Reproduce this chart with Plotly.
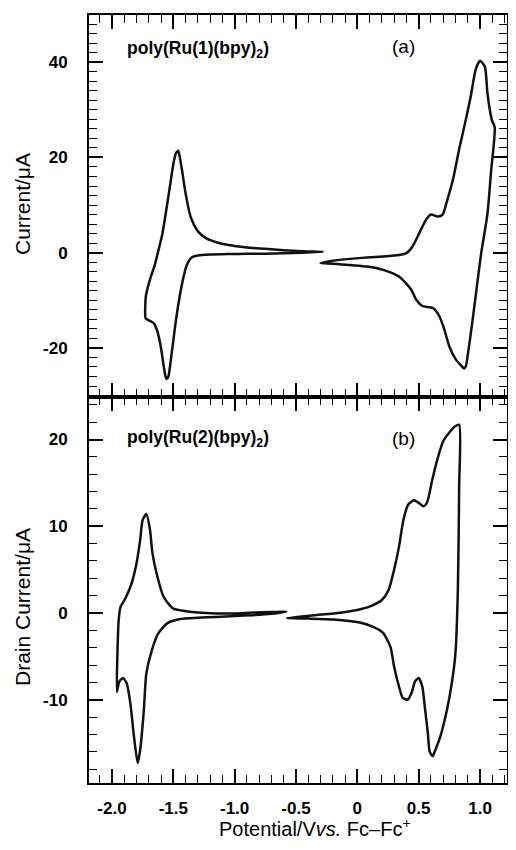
import plotly.graph_objects as go

# ---------------- data ----------------
# Panel (a): poly(Ru(1)(bpy)2)
a_neg_x = [-0.28, -0.45, -0.6, -0.75, -0.9, -1.05, -1.15, -1.23, -1.29, -1.33, -1.36, -1.40, -1.43, -1.45, -1.46,
           -1.48, -1.50, -1.53, -1.56, -1.59, -1.62, -1.65, -1.68, -1.71, -1.725, -1.725, -1.70, -1.66, -1.63,
           -1.60, -1.58, -1.565, -1.555, -1.54, -1.52, -1.50, -1.48, -1.45, -1.42, -1.39, -1.35, -1.30, -1.2,
           -1.05, -0.9, -0.75, -0.6, -0.45, -0.28]
a_neg_y = [0.2, 0.3, 0.5, 0.8, 1.1, 1.6, 2.2, 3.0, 4.2, 5.8, 7.6, 12.5, 17.5, 20.5, 21.4,
           20.8, 18.5, 13.5, 8.5, 3.8, 0.6, -2.5, -4.8, -7.5, -9.5, -13.8, -14.2, -14.8, -16.5,
           -20.0, -23.5, -25.8, -26.5, -26.0, -22.5, -18.5, -14.5, -9.5, -5.5, -2.6, -1.0, -0.6, -0.4,
           -0.3, -0.25, -0.2, -0.1, 0.0, 0.2]

a_pos_x = [-0.30, -0.20, -0.06, 0.08, 0.21, 0.34, 0.40, 0.45, 0.505, 0.56, 0.60, 0.655, 0.695, 0.735, 0.78,
           0.83, 0.885, 0.925, 0.965, 1.00, 1.04, 1.06, 1.095, 1.12, 1.09, 1.06, 1.01, 0.97, 0.93, 0.90,
           0.885, 0.87, 0.84, 0.805, 0.75, 0.71, 0.67, 0.615, 0.53, 0.48, 0.44, 0.34, 0.21, 0.08, -0.06,
           -0.20, -0.30]
a_pos_y = [-2.2, -1.7, -1.3, -1.0, -0.8, -0.5, -0.1, 1.3, 4.1, 6.9, 8.0, 7.6, 8.0, 11.2, 15.4,
           21.7, 28.0, 32.9, 38.5, 40.3, 39.0, 33.6, 28.0, 26.3, 17.0, 8.0, 0.0, -8.0, -16.0, -21.5,
           -23.8, -24.3, -23.5, -22.5, -19.7, -16.2, -13.4, -11.6, -11.2, -9.9, -7.8, -5.0, -3.6, -2.9, -2.6,
           -2.3, -2.2]

# Panel (b): poly(Ru(2)(bpy)2)
b_neg_x = [-0.58, -0.7, -0.85, -1.0, -1.15, -1.3, -1.42, -1.50, -1.53, -1.58, -1.63, -1.67, -1.69, -1.72,
           -1.75, -1.77, -1.80, -1.84, -1.89, -1.93, -1.945, -1.955, -1.96, -1.94, -1.91, -1.88, -1.85,
           -1.82, -1.79, -1.77, -1.74, -1.72, -1.675, -1.62, -1.55, -1.445, -1.3, -1.15, -1.0, -0.85,
           -0.7, -0.58]
b_neg_y = [0.15, 0.1, 0.05, -0.05, -0.05, 0.05, 0.25, 0.5, 0.9, 1.9, 4.2, 6.9, 9.6, 11.4,
           10.7, 8.4, 5.7, 3.4, 1.7, 0.7, -0.8, -4.6, -9.1, -7.9, -7.5, -8.1, -10.4,
           -14.3, -17.3, -15.8, -11.2, -7.0, -4.3, -2.3, -1.2, -0.7, -0.55, -0.45, -0.35, -0.25,
           -0.1, 0.15]

b_pos_x = [-0.575, -0.45, -0.33, -0.14, 0.0, 0.10, 0.20, 0.255, 0.30, 0.34, 0.375, 0.415, 0.46, 0.50,
           0.54, 0.57, 0.61, 0.65, 0.70, 0.755, 0.795, 0.83, 0.83, 0.82, 0.80, 0.77, 0.73, 0.675, 0.63,
           0.615, 0.59, 0.575, 0.55, 0.53, 0.50, 0.47, 0.445, 0.41, 0.37, 0.34, 0.30, 0.27, 0.21, 0.13,
           0.02, -0.195, -0.40, -0.575]
b_pos_y = [-0.6, -0.4, -0.23, 0.04, 0.35, 0.73, 1.5, 2.65, 5.0, 7.65, 10.7, 12.5, 13.0, 12.7,
           12.3, 12.8, 15.3, 17.6, 19.8, 20.9, 21.5, 21.7, 14.6, 3.0, -4.6, -8.1, -11.2, -14.3, -16.0,
           -16.5, -16.0, -13.9, -10.8, -8.5, -7.5, -7.9, -9.1, -10.0, -9.8, -8.5, -6.2, -3.9, -2.3, -1.6,
           -1.1, -0.75, -0.65, -0.6]

x_tickvals = [-2.0, -1.5, -1.0, -0.5, 0.0, 0.5, 1.0]
x_ticktext = ["-2.0", "-1.5", "-1.0", "-0.5", "0", "0.5", "1.0"]
ya_tickvals = [-20, 0, 20, 40]
ya_ticktext = ["-20", "0", "20", "40"]
ya_unlabeled_major = [-30, -10, 10, 30]
yb_tickvals = [-10, 0, 10, 20]
yb_ticktext = ["-10", "0", "10", "20"]

# ---------------- figure ----------------
# page body has an 8px margin, so the figure origin sits at page (8, 8)
OFF = 8
W, H = 500, 834
ML, MT = 89 - OFF, 15 - OFF
MR = W - (507 - OFF)
MB = H - (783 - OFF)
plot_w = W - ML - MR
plot_h = H - MT - MB
split = (783 - 397) / plot_h

FONT = "Liberation Sans, Arial, sans-serif"
line = dict(color="#111111", width=2.5, shape="spline", smoothing=0.6)

fig = go.Figure()
fig.add_trace(go.Scatter(x=a_neg_x, y=a_neg_y, mode="lines", line=line, xaxis="x2", yaxis="y2", showlegend=False))
fig.add_trace(go.Scatter(x=a_pos_x, y=a_pos_y, mode="lines", line=line, xaxis="x2", yaxis="y2", showlegend=False))
fig.add_trace(go.Scatter(x=b_neg_x, y=b_neg_y, mode="lines", line=line, xaxis="x", yaxis="y", showlegend=False))
fig.add_trace(go.Scatter(x=b_pos_x, y=b_pos_y, mode="lines", line=line, xaxis="x", yaxis="y", showlegend=False))

tickfont = dict(family=FONT, size=17, color="black", weight="bold")
common = dict(showline=True, linewidth=2, linecolor="black", mirror="allticks",
              ticks="inside", ticklen=14, tickwidth=1.6, tickcolor="black",
              showgrid=False, zeroline=False, tickfont=tickfont, automargin=False)

def minor(dt):
    return dict(ticks="inside", dtick=dt, tick0=0, ticklen=8, tickwidth=1.4, tickcolor="black", showgrid=False)

xrange = [-2.187, 1.22]
ya_range = [-30.3, 49.9]
fig.update_layout(
    template="none",
    width=W, height=H,
    margin=dict(l=ML, r=MR, t=MT, b=MB, autoexpand=False),
    paper_bgcolor="white", plot_bgcolor="white",
    xaxis=dict(domain=[0, 1], anchor="y", range=xrange, tickvals=x_tickvals, ticktext=x_ticktext,
               minor=minor(0.1), ticklabelstandoff=9, **common),
    xaxis2=dict(domain=[0, 1], anchor="y2", range=xrange, tickvals=x_tickvals, showticklabels=False,
                minor=minor(0.1), **common),
    yaxis=dict(domain=[0, split], anchor="x", range=[-19.6, 24.9], tickvals=yb_tickvals, ticktext=yb_ticktext,
               minor=minor(2), ticklabelstandoff=16, **common),
    yaxis2=dict(domain=[split, 1], anchor="x2", range=ya_range, tickvals=ya_tickvals, ticktext=ya_ticktext,
                minor=minor(2), ticklabelstandoff=16, **common),
    # overlay axis carrying the unlabeled long ticks of panel (a)
    yaxis3=dict(domain=[split, 1], anchor="x2", overlaying="y2", range=ya_range, tickvals=ya_unlabeled_major,
                showticklabels=False, **{k: v for k, v in common.items() if k != "tickfont"}),
)

# page pixel -> paper coordinates
def px2paper_x(px):
    return (px - OFF - ML) / plot_w

def py2paper_y(py):
    return (H - MB - (py - OFF)) / plot_h

ann = []
ann.append(dict(text="Current/μA", x=px2paper_x(22), y=py2paper_y(204), textangle=-90,
                font=dict(family=FONT, size=21, color="black")))
ann.append(dict(text="Drain Current/μA", x=px2paper_x(22), y=py2paper_y(607), textangle=-90,
                font=dict(family=FONT, size=21, color="black")))
ann.append(dict(text="Potential/V<i>vs.</i> Fc–Fc<sup>+</sup>", x=px2paper_x(315), y=py2paper_y(842),
                yanchor="bottom", font=dict(family=FONT, size=20, color="black")))
ann.append(dict(text="<b>poly(Ru(1)(bpy)<sub>2</sub>)</b>", x=px2paper_x(125), y=py2paper_y(49), xanchor="left",
                font=dict(family=FONT, size=17.5, color="black")))
ann.append(dict(text="(a)", x=px2paper_x(403), y=py2paper_y(47),
                font=dict(family=FONT, size=19, color="black")))
ann.append(dict(text="<b>poly(Ru(2)(bpy)<sub>2</sub>)</b>", x=px2paper_x(125), y=py2paper_y(439), xanchor="left",
                font=dict(family=FONT, size=17.5, color="black")))
ann.append(dict(text="(b)", x=px2paper_x(403), y=py2paper_y(439),
                font=dict(family=FONT, size=19, color="black")))
for a in ann:
    a.update(xref="paper", yref="paper", showarrow=False)
    a.setdefault("xanchor", "center")
    a.setdefault("yanchor", "middle")
fig.update_layout(annotations=ann)

fig.write_html("out.html")
